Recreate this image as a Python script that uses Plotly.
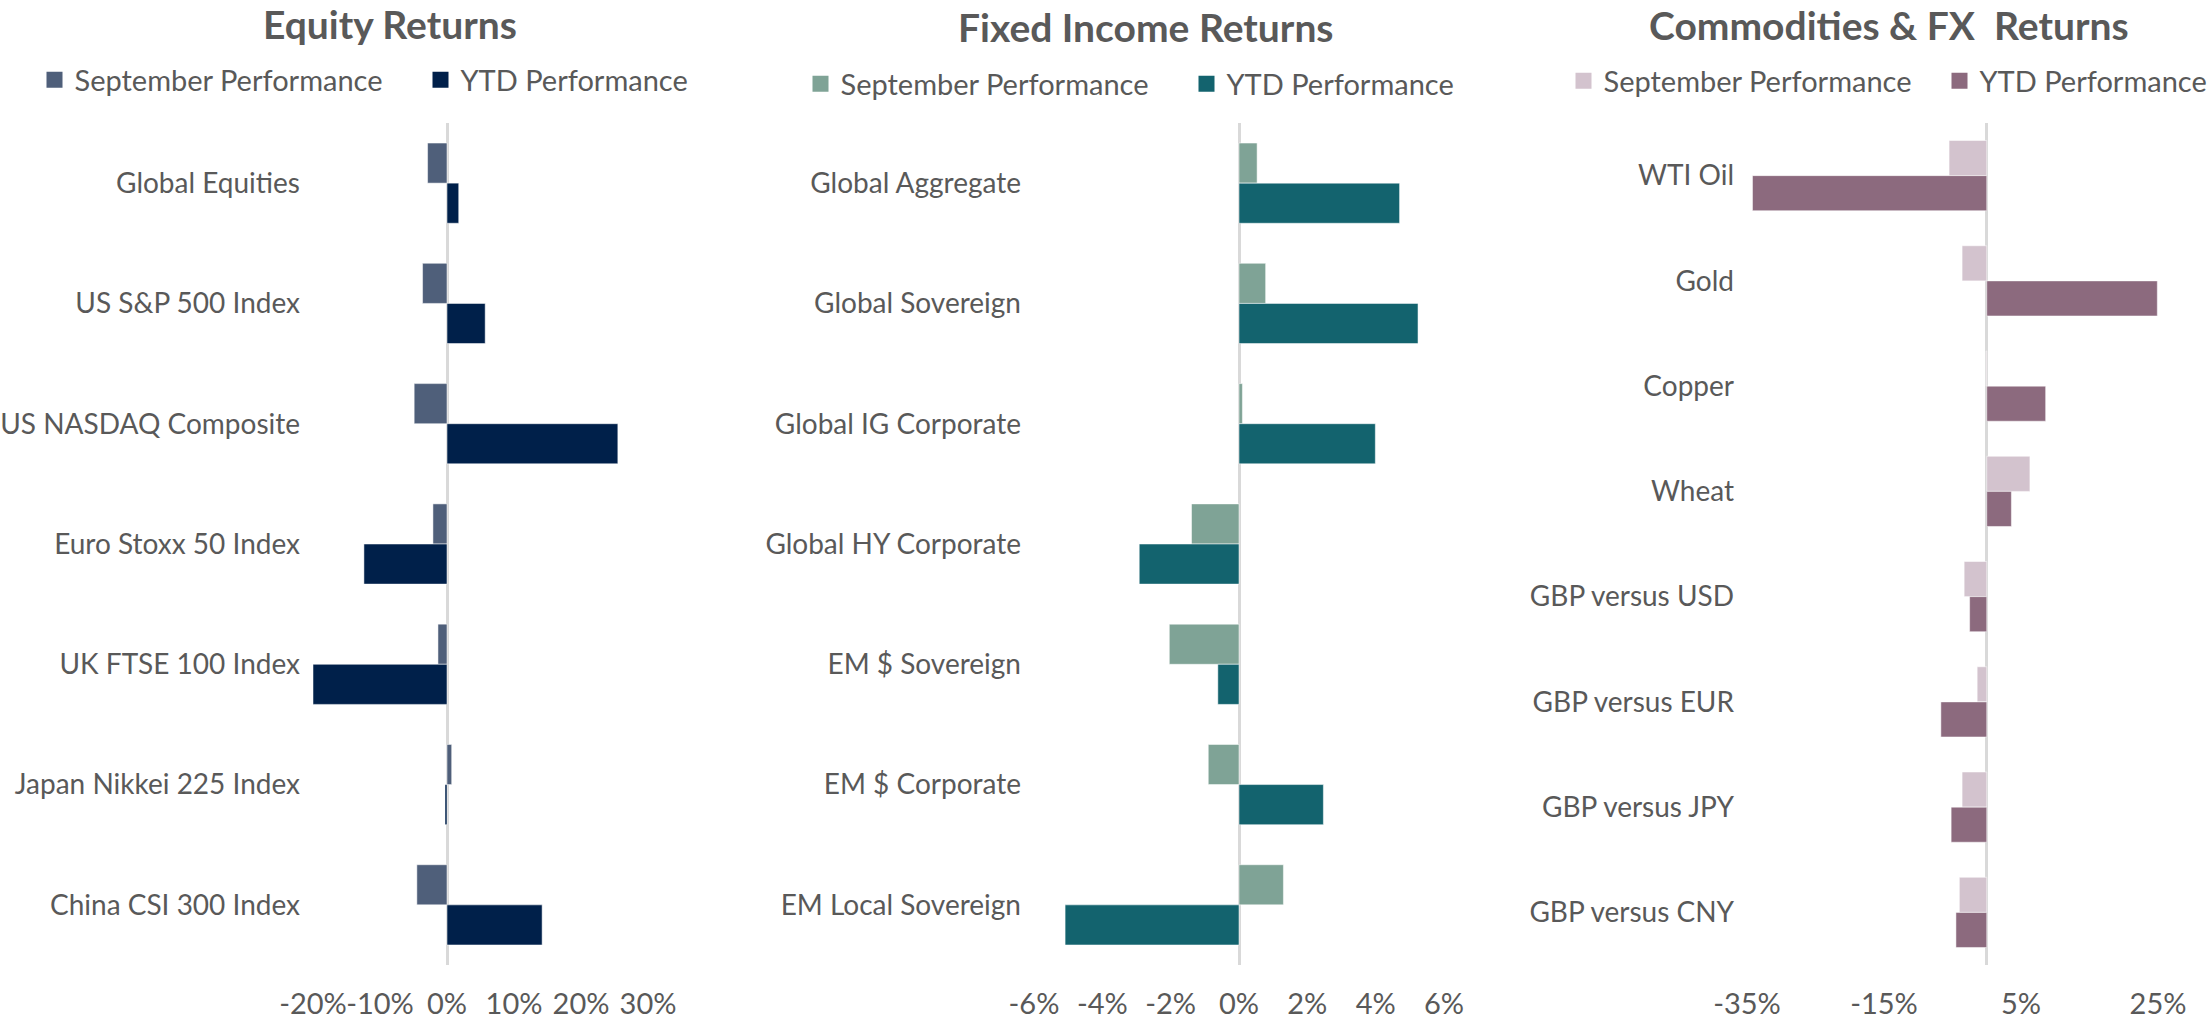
import plotly.graph_objects as go

# ---------------- data ----------------
eq_categories = ["Global Equities", "US S&P 500 Index", "US NASDAQ Composite",
                 "Euro Stoxx 50 Index", "UK FTSE 100 Index", "Japan Nikkei 225 Index",
                 "China CSI 300 Index"]
eq_sep = [-2.9, -3.65, -4.9, -2.1, -1.35, 0.7, -4.5]
eq_ytd = [1.75, 5.7, 25.5, -12.4, -20.0, -0.3, 14.2]
eq_ticks = [-20, -10, 0, 10, 20, 30]

fi_categories = ["Global Aggregate", "Global Sovereign", "Global IG Corporate",
                 "Global HY Corporate", "EM $ Sovereign", "EM $ Corporate",
                 "EM Local Sovereign"]
fi_sep = [0.53, 0.78, 0.1, -1.39, -2.04, -0.9, 1.3]
fi_ytd = [4.7, 5.24, 3.99, -2.92, -0.62, 2.47, -5.09]
fi_ticks = [-6, -4, -2, 0, 2, 4, 6]

cf_categories = ["WTI Oil", "Gold", "Copper", "Wheat", "GBP versus USD",
                 "GBP versus EUR", "GBP versus JPY", "GBP versus CNY"]
cf_sep = [-5.5, -3.6, -0.1, 6.3, -3.3, -1.4, -3.6, -4.0]
cf_ytd = [-34.2, 24.9, 8.6, 3.6, -2.5, -6.7, -5.2, -4.5]
cf_ticks = [-35, -15, 5, 25]

titles = ["Equity Returns", "Fixed Income Returns", "Commodities &amp; FX  Returns"]
series_names = ["September Performance", "YTD Performance"]

# ---------------- style ----------------
W, H = 2211, 1028
FONT = "Lato"
TXT = "#595959"
colors = [("#4F5F7A", "#00204A"), ("#7FA396", "#13636E"), ("#D3C3CE", "#8C6A7E")]


def px_x(a, b):
    return [a / W, b / W]


x_domains = [px_x(313, 648), px_x(1034, 1444), px_x(1747, 2158)]
y_domain = [1 - 965 / H, 1 - 123 / H]
ranges = [[-20, 30], [-6, 6], [-35, 25]]
tickvals = [eq_ticks, fi_ticks, cf_ticks]
panels = [(eq_categories, eq_sep, eq_ytd), (fi_categories, fi_sep, fi_ytd),
          (cf_categories, cf_sep, cf_ytd)]
legend_keys = ["legend", "legend2", "legend3"]
legend_x = [34.5, 800.5, 1563.5]
legend_y = [80, 84, 81]
legend_entry = [341, 341, 331]
title_x = [390, 1146, 1889]
title_y = [24, 27, 25]

fig = go.Figure()
for i, (cats, sep, ytd) in enumerate(panels):
    ax = "" if i == 0 else str(i + 1)
    for name, vals, col in zip(series_names, (sep, ytd), colors[i]):
        fig.add_trace(go.Bar(
            x=vals, y=cats, orientation="h", name=name,
            marker=dict(color=col, line=dict(color="rgba(255,255,255,0.5)", width=1)),
            xaxis="x" + ax, yaxis="y" + ax, showlegend=False,
            hoverinfo="x+y",
        ))
        # legend swatch entry
        fig.add_trace(go.Scatter(
            x=[None], y=[None], mode="markers", name=name,
            marker=dict(symbol="square", size=17, color=col, line=dict(width=0)),
            xaxis="x" + ax, yaxis="y" + ax, legend=legend_keys[i], hoverinfo="skip",
        ))
    fig.layout["xaxis" + ax] = dict(
        domain=x_domains[i], anchor="y" + ax, range=ranges[i],
        tickmode="array", tickvals=tickvals[i],
        ticktext=["%d%%" % v for v in tickvals[i]], tickangle=0,
        showgrid=False, showline=False, automargin=False,
        zeroline=True, zerolinecolor="#D9D9D9", zerolinewidth=3,
        tickfont=dict(family=FONT, size=29, color=TXT), ticks="",
        ticklabelstandoff=19,
    )
    fig.layout["yaxis" + ax] = dict(
        domain=y_domain, anchor="x" + ax, autorange="reversed", type="category",
        showgrid=False, showline=False, zeroline=False, ticks="", automargin=False,
        tickfont=dict(family=FONT, size=28, color=TXT), ticklabelstandoff=12,
    )
    fig.layout[legend_keys[i]] = dict(
        orientation="h", x=legend_x[i] / W, xanchor="left",
        y=1 - legend_y[i] / H, yanchor="middle",
        font=dict(family=FONT, size=29, color=TXT), bgcolor="rgba(0,0,0,0)",
        entrywidth=legend_entry[i], itemclick=False, itemdoubleclick=False,
    )
    fig.add_annotation(
        text="<b>" + titles[i] + "</b>", x=title_x[i] / W, y=1 - title_y[i] / H,
        xref="paper", yref="paper", xanchor="center", yanchor="middle",
        showarrow=False, font=dict(family=FONT, size=39, color=TXT),
    )

fig.update_layout(
    width=W, height=H, margin=dict(l=0, r=0, t=0, b=0, autoexpand=False),
    paper_bgcolor="white", plot_bgcolor="white",
    barmode="group", bargap=0.333, bargroupgap=0,
    showlegend=True,
)

fig.write_html(
    "out.html",
    config={"displayModeBar": False},
    post_script="document.body.style.margin='0';document.body.style.overflow='hidden';",
)
